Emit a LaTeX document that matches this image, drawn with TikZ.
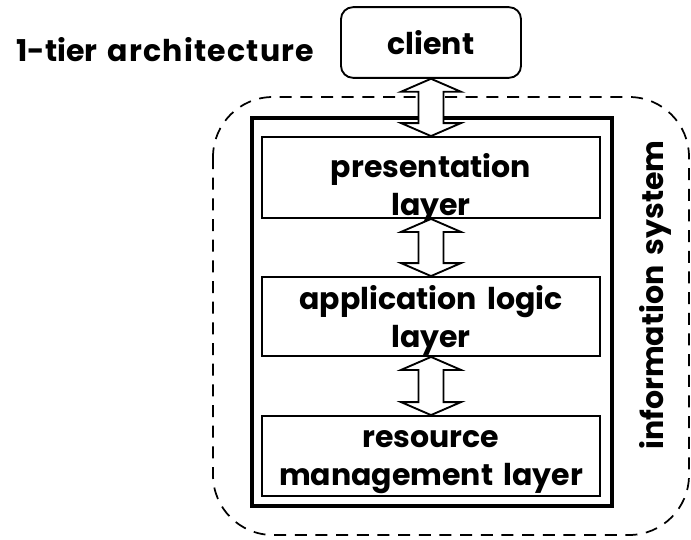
\documentclass[tikz,border=0pt]{standalone}
\usepackage{fontspec}
\setmainfont[WordSpace=1.6]{Poppins}
\usepackage{tikz}
\usetikzlibrary{calc}

\begin{document}
\begin{tikzpicture}[
        x=0.75pt, y=-0.75pt,
        every node/.style={font=\fontsize{22.5}{28.5}\selectfont\bfseries},
        layerbox/.style={draw, line width=1.4pt, minimum width=253.5pt, inner sep=0pt,
            align=center},
        bigarrow/.style={draw, line width=1.4pt, fill=white, line join=miter}
    ]
        \useasboundingbox (0,0) rectangle (691,539);

        % information system
        \draw [dashed, dash pattern=on 9pt off 6.5pt, line width=1.3pt, rounded corners=45pt]
            (213,97) rectangle (689,535);
        \draw [line width=2.4pt] (252,118) rectangle (612,506);

        \node (tier) at (12,50) [anchor=west] {1-tier {\addfontfeature{LetterSpace=4}architecture}};
        \node (client) at (431,42.5) [draw, line width=1.4pt, rounded corners=9pt,
            minimum width=135pt, minimum height=53pt] {client};

        \node (pres) at (431,177.5) [layerbox, text height=58.5pt, text depth=2.25pt]
            {presentation\\layer};
        \node (app)  at (431,316.5) [layerbox, text height=52.5pt, text depth=6.75pt]
            {application logic\\layer};
        \node (res)  at (431,456)   [layerbox, text height=51.75pt, text depth=8.25pt]
            {resource\\management layer};

        \node (infosys) at (655,295) [rotate=90] {information system};

        \foreach \a/\b in {client/pres, pres/app, app/res} {
            \draw [bigarrow] (\a.south) -- ++(30,13) -- ++(-17.5,0)
                -- ($(\b.north)+(12.5,-13)$) -- ++(17.5,0) -- (\b.north)
                -- ++(-30,-13) -- ++(17.5,0) -- ($(\a.south)+(-12.5,13)$)
                -- ++(-17.5,0) -- cycle;
        }
    \end{tikzpicture}
\end{document}
